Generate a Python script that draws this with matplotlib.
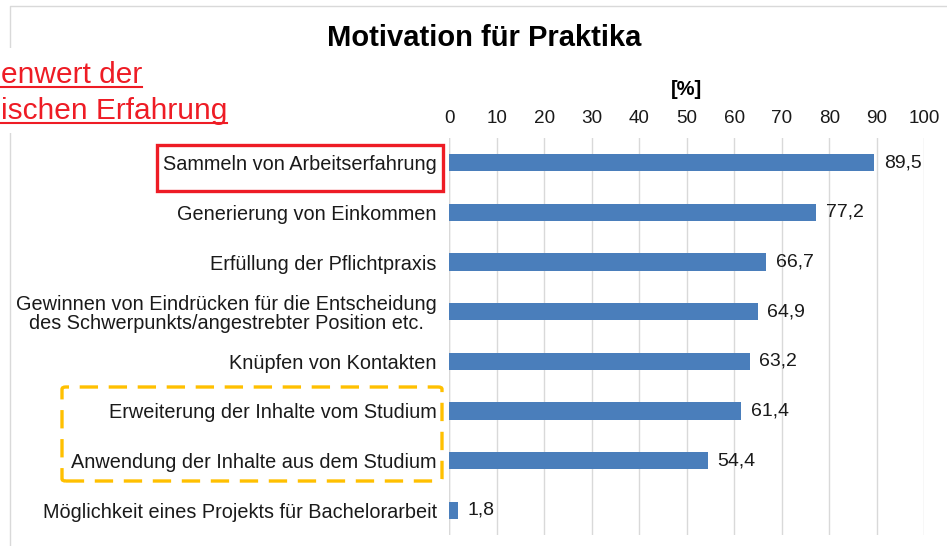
import matplotlib
matplotlib.use("Agg")
import matplotlib.pyplot as plt
from matplotlib.patches import Rectangle, FancyBboxPatch
from matplotlib.lines import Line2D

plt.rcParams['font.family'] = ['Liberation Sans', 'DejaVu Sans']

categories = [
    "Sammeln von Arbeitserfahrung",
    "Generierung von Einkommen",
    "Erfüllung der Pflichtpraxis",
    "Gewinnen von Eindrücken für die Entscheidung\ndes Schwerpunkts/angestrebter Position etc.",
    "Knüpfen von Kontakten",
    "Erweiterung der Inhalte vom Studium",
    "Anwendung der Inhalte aus dem Studium",
    "Möglichkeit eines Projekts für Bachelorarbeit",
]
values = [89.5, 77.2, 66.7, 64.9, 63.2, 61.4, 54.4, 1.8]
xticks = [0, 10, 20, 30, 40, 50, 60, 70, 80, 90, 100]
title = "Motivation für Praktika"
unit_label = "[%]"
side_note = ["enwert der", "ischen Erfahrung"]

W, H = 947, 546
fig = plt.figure(figsize=(W / 100, H / 100), dpi=100)


def fx(x):
    return x / W


def fy(y):
    return 1 - y / H


ax = fig.add_axes([fx(449.3), fy(535), fx(924.3) - fx(449.3), fy(138) - fy(535)])

ypos = list(range(len(categories)))
ax.barh(ypos, values, height=0.35, color='#4A7EBB', zorder=3)
for y, v in zip(ypos, values):
    ax.annotate(f"{v:.1f}".replace('.', ','), (v, y), xytext=(7, 0),
                textcoords='offset points', va='center', ha='left',
                fontsize=14, color='#1a1a1a')

ax.set_xlim(0, 100)
ax.set_ylim(len(categories) - 0.5, -0.5)
ax.set_xticks(xticks)
ax.set_yticks(ypos)
ax.set_yticklabels(categories, fontsize=14.3, color='#1a1a1a',
                   multialignment='center', linespacing=1.05)
ax.xaxis.tick_top()
ax.xaxis.set_label_position('top')
ax.tick_params(axis='x', length=0, pad=8, labelsize=13.6, labelcolor='#1a1a1a')
ax.tick_params(axis='y', length=0, pad=9)
ax.set_xlabel(unit_label, fontsize=14.5, fontweight='bold', labelpad=10.5)
ax.grid(axis='x', color='#D9D9D9', linewidth=1.0, zorder=0)
for s in ax.spines.values():
    s.set_visible(False)
ax.axvline(0, color='#D9D9D9', linewidth=1.0, zorder=1)

# title
fig.text(fx(484), fy(38.5), title, fontsize=21, fontweight='bold',
         ha='center', va='center', color='black')

# outer frame (light grey)
fig.add_artist(Line2D([fx(9.5), fx(9.5), fx(947)], [fy(546), fy(5.5), fy(5.5)],
                      color='#D9D9D9', linewidth=1.0))

# white text box for side note
fig.add_artist(Rectangle((fx(0), fy(133)), fx(232), fy(48) - fy(133),
                         facecolor='white', edgecolor='none', zorder=5))

red = '#EE1C25'
baselines = [83, 119]
fig.canvas.draw()
renderer = fig.canvas.get_renderer()
for txt, yb in zip(side_note, baselines):
    t = fig.text(fx(1), fy(yb), txt, fontsize=21.5, color=red, ha='left',
                 va='baseline', zorder=6)
    bb = t.get_window_extent(renderer)
    fig.add_artist(Line2D([fx(0), bb.x1 / W], [fy(yb + 4), fy(yb + 4)],
                          color=red, linewidth=1.5, zorder=6))

# red highlight box
fig.add_artist(Rectangle((fx(157), fy(191)), fx(443) - fx(157), fy(145) - fy(191),
                         facecolor='none', edgecolor=red, linewidth=2.4, zorder=6))

# orange dashed box
ob = FancyBboxPatch((fx(62), fy(481)), fx(442) - fx(62), fy(387) - fy(481),
                    boxstyle='round,pad=0,rounding_size=0.004',
                    facecolor='none', edgecolor='#FFC000', linewidth=2.4,
                    linestyle=(0, (5.5, 3.2)), zorder=6)
fig.add_artist(ob)

fig.savefig('out.png', dpi=100)
